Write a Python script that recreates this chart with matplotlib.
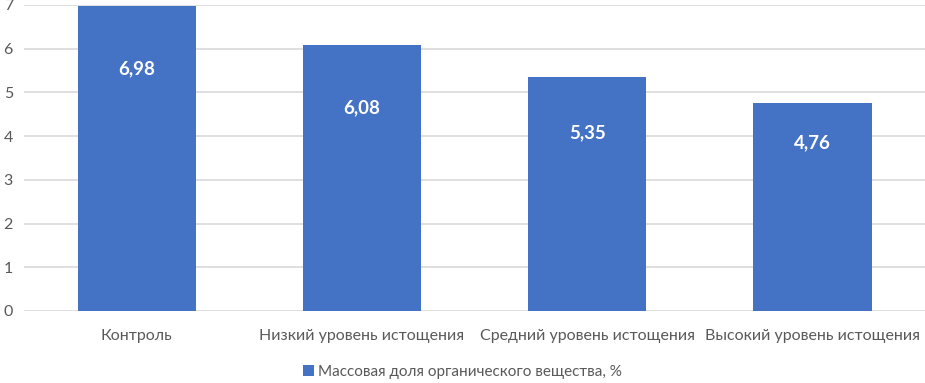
import matplotlib
matplotlib.use("Agg")
import matplotlib.pyplot as plt

categories = ["Контроль", "Низкий уровень истощения",
              "Средний уровень истощения", "Высокий уровень истощения"]
values = [6.98, 6.08, 5.35, 4.76]
value_labels = ["6,98", "6,08", "5,35", "4,76"]
series_name = "Массовая доля органического вещества, %"
yticks = [0, 1, 2, 3, 4, 5, 6, 7]

BLUE = "#4472c4"
GRID = "#d9d9d9"
TXT = "#595959"
# how far below the bar top each value label sits (points)
label_drop = [45, 45, 40, 29]

plt.rcParams["font.family"] = ["Lato", "DejaVu Sans"]

fig = plt.figure(figsize=(9.25, 3.83), dpi=100)
ax = fig.add_axes([0.026, 0.188, 0.974, 0.799])

x = range(len(categories))
bars = ax.bar(x, values, width=0.525, color=BLUE, zorder=3, label=series_name)
for b, lab, d in zip(bars, value_labels, label_drop):
    ax.annotate(lab, (b.get_x() + b.get_width() / 2, b.get_height()),
                xytext=(0, -d), textcoords="offset points",
                ha="center", va="center", color="white",
                fontsize=13.5, fontweight="bold", zorder=4)

ax.set_xlim(-0.5, len(categories) - 0.5)
ax.set_ylim(0, 7)
ax.set_yticks(yticks)
ax.set_yticklabels([str(t) for t in yticks])
ax.set_xticks(list(x))
ax.set_xticklabels(categories)
ax.yaxis.grid(True, color=GRID, linewidth=1.2, zorder=0)
ax.set_axisbelow(True)
for s in ax.spines.values():
    s.set_visible(False)
ax.tick_params(axis="both", length=0, colors=TXT, labelsize=11.5)
ax.tick_params(axis="x", pad=13)
ax.tick_params(axis="y", pad=8)

fig.legend(loc="lower center", bbox_to_anchor=(0.5, -0.025), frameon=False,
           fontsize=11, labelcolor=TXT, handlelength=0.7, handleheight=0.7,
           handletextpad=0.3)

fig.savefig("out.png", dpi=100)
